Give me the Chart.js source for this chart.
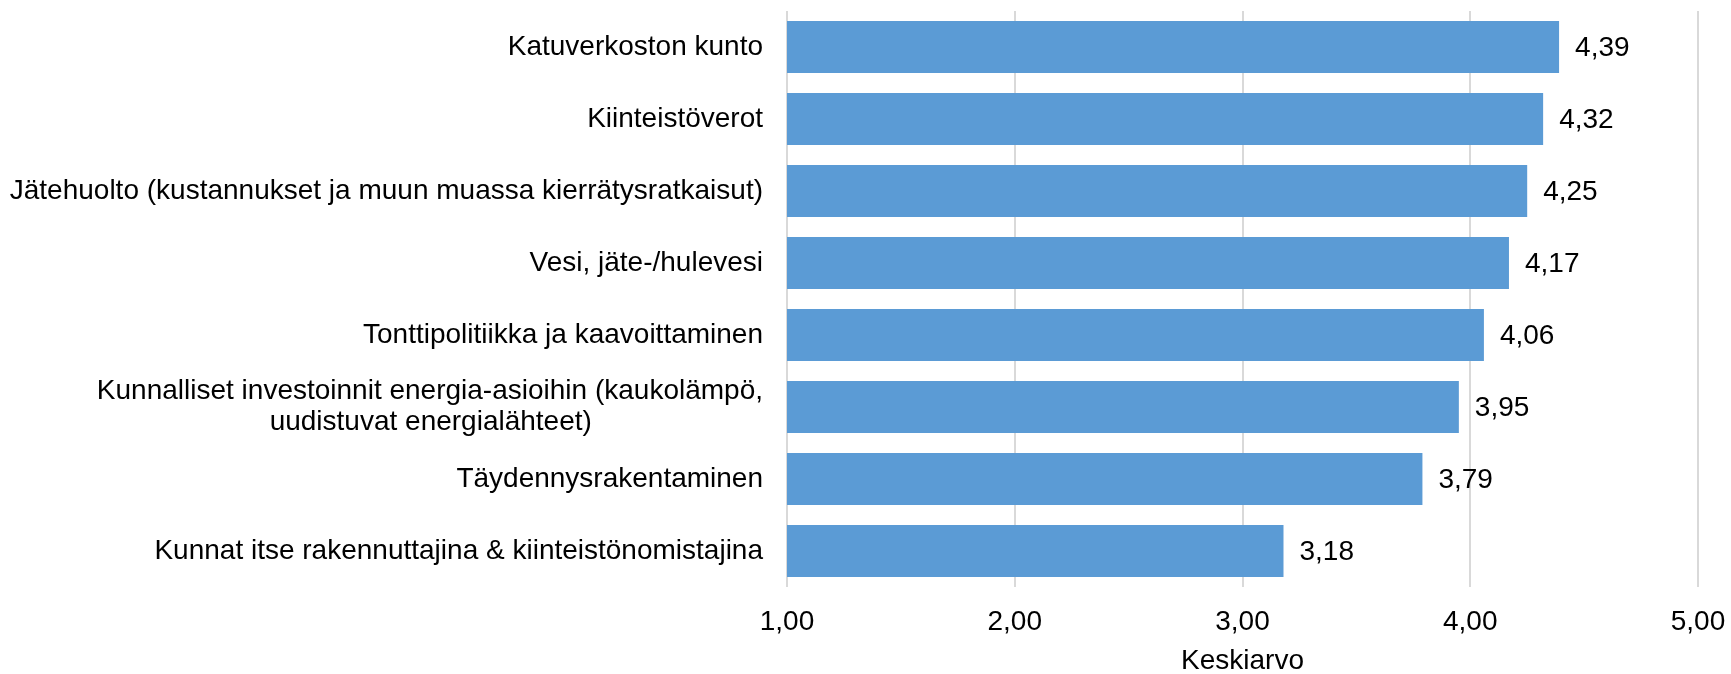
<!DOCTYPE html>
<html>
<head>
<meta charset="utf-8">
<script src="https://cdn.jsdelivr.net/npm/chart.js@4"></script>
<style>
  html, body { margin: 0; padding: 0; background: #ffffff; }
  #wrap { width: 1731px; height: 674px; position: relative; }
</style>
</head>
<body>
<div id="wrap"><canvas id="c"></canvas></div>
<script>
const categories = [
  "Katuverkoston kunto",
  "Kiinteistöverot",
  "Jätehuolto (kustannukset ja muun muassa kierrätysratkaisut)",
  "Vesi, jäte-/hulevesi",
  "Tonttipolitiikka ja kaavoittaminen",
  ["Kunnalliset investoinnit energia-asioihin (kaukolämpö,", "uudistuvat energialähteet)"],
  "Täydennysrakentaminen",
  "Kunnat itse rakennuttajina & kiinteistönomistajina"
];
const values = [4.39, 4.32, 4.25, 4.17, 4.06, 3.95, 3.79, 3.18];
const xTickValues = [1, 2, 3, 4, 5];
const xTickLabels = ["1,00", "2,00", "3,00", "4,00", "5,00"];
const axisTitle = "Keskiarvo";

const FONT_FAMILY = "'Liberation Sans', Arial, sans-serif";
const FONT_SIZE = 28;

// centre the second line of two-line labels under the first (right-aligned block)
const mctx = document.createElement('canvas').getContext('2d');
mctx.font = FONT_SIZE + "px " + FONT_FAMILY;
const displayLabels = categories.map(c => {
  if (!Array.isArray(c)) return c;
  const w0 = mctx.measureText(c[0]).width;
  return c.map((line, i) => {
    if (i === 0) return line;
    const w = mctx.measureText(line).width;
    const sp = mctx.measureText('\u00a0').width;
    const n = Math.max(0, Math.round((w0 - w) / 2 / sp));
    return line + '\u00a0'.repeat(n);
  });
});

const fmt = v => v.toFixed(2).replace('.', ',');

const valueLabels = {
  id: 'valueLabels',
  afterDatasetsDraw(chart) {
    const ctx = chart.ctx;
    const meta = chart.getDatasetMeta(0);
    ctx.save();
    ctx.font = FONT_SIZE + "px " + FONT_FAMILY;
    ctx.fillStyle = '#000000';
    ctx.textAlign = 'left';
    ctx.textBaseline = 'middle';
    meta.data.forEach((el, i) => {
      ctx.fillText(fmt(values[i]), el.x + 16, el.y + 1);
    });
    ctx.restore();
  }
};

new Chart(document.getElementById('c'), {
  type: 'bar',
  data: {
    labels: displayLabels,
    datasets: [{
      data: values,
      backgroundColor: '#5b9bd5',
      borderWidth: 0,
      categoryPercentage: 1.0,
      barPercentage: 0.72
    }]
  },
  options: {
    indexAxis: 'y',
    responsive: true,
    maintainAspectRatio: false,
    animation: false,
    layout: { padding: { top: 11, right: 33, bottom: 0, left: 0 } },
    plugins: { legend: { display: false }, tooltip: { enabled: false } },
    scales: {
      x: {
        min: 1,
        max: 5,
        afterBuildTicks(scale) { scale.ticks = xTickValues.map(v => ({ value: v })); },
        afterFit(scale) { scale.height = 87; scale.paddingLeft = 0; scale.paddingRight = 0; },
        ticks: {
          color: '#000000',
          font: { family: FONT_FAMILY, size: FONT_SIZE },
          padding: 18,
          maxRotation: 0,
          autoSkip: false,
          callback: (v) => xTickLabels[xTickValues.indexOf(v)]
        },
        grid: { color: '#d9d9d9', lineWidth: 2, drawTicks: false },
        border: { display: false },
        title: {
          display: true,
          text: axisTitle,
          color: '#000000',
          font: { family: FONT_FAMILY, size: FONT_SIZE, lineHeight: 0.9 },
          padding: { top: 0, bottom: 0 }
        }
      },
      y: {
        afterFit(scale) { scale.width = 787; scale.paddingTop = 0; scale.paddingBottom = 0; },
        ticks: {
          color: '#000000',
          font: { family: FONT_FAMILY, size: FONT_SIZE, lineHeight: 1.1 },
          padding: 24,
          autoSkip: false
        },
        grid: { display: false, drawTicks: false },
        border: { display: false }
      }
    }
  },
  plugins: [valueLabels]
});
</script>
</body>
</html>
